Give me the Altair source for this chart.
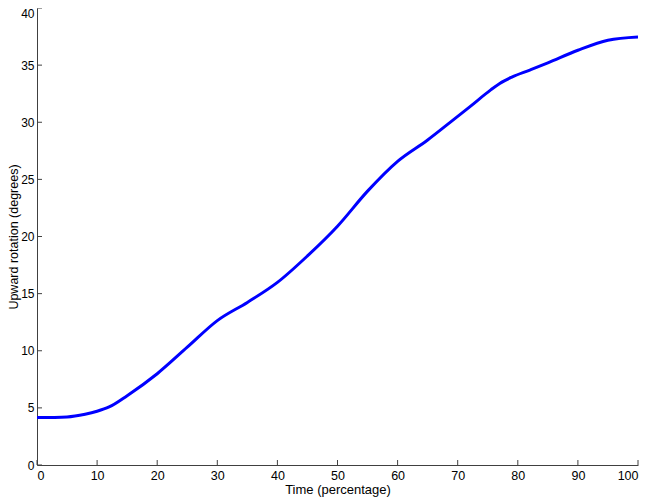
import altair as alt
import pandas as pd

time_pct = [0, 5, 8, 10, 12, 15, 20, 25, 30, 35, 40, 45, 50, 55, 60, 65, 69, 72, 75.5, 77, 79, 82, 85,
            90, 95, 100]
rotation = [4.15, 4.21, 4.44, 4.7, 5.08, 6.07, 7.99, 10.31, 12.64, 14.23, 15.98, 18.3, 20.9, 23.97, 26.58,
            28.45, 30.1, 31.35, 32.83, 33.4, 33.95, 34.57, 35.2, 36.3, 37.18, 37.47]
x_ticks = [0, 10, 20, 30, 40, 50, 60, 70, 80, 90, 100]
y_ticks = [0, 5, 10, 15, 20, 25, 30, 35, 40]

W, H = 601, 457
LEFT = 29
FONT = "Liberation Sans"
AXIS_COLOR = "#404040"

df = pd.DataFrame({"t": time_pct, "r": rotation})
xt = pd.DataFrame({"v": x_ticks})
yt = pd.DataFrame({"v": y_ticks})

xscale = alt.Scale(domain=[0, 100], nice=False, zero=False)
yscale = alt.Scale(domain=[0, 40], nice=False, zero=False)

line = alt.Chart(df).mark_line(color="#0000FF", strokeWidth=3, interpolate="monotone").encode(
    x=alt.X("t:Q", scale=xscale, axis=alt.Axis(
        values=x_ticks, title="Time (percentage)", ticks=False, grid=False,
        domainColor=AXIS_COLOR, domainWidth=1, labelFont=FONT, labelFontSize=12.5,
        labelColor="black", labelPadding=4, titleFont=FONT, titleFontSize=13,
        titleFontWeight="normal", titleColor="black", titleY=24, titleBaseline="middle")),
    y=alt.Y("r:Q", scale=yscale, axis=alt.Axis(
        values=y_ticks, title="Upward rotation (degrees)", ticks=False, grid=False,
        domainColor=AXIS_COLOR, domainWidth=1, labelFont=FONT, labelFontSize=12,
        labelColor="black", labelPadding=3,
        labelOffset={"condition": {"test": "datum.value == 40", "value": 5}, "value": 0},
        titleFont=FONT, titleFontSize=12.5,
        titleFontWeight="normal", titleColor="black", titleX=-24, titleY=H / 2,
        titleAngle=270, titleBaseline="middle", titleAlign="center")),
)

xtick_marks = alt.Chart(xt).mark_rule(color=AXIS_COLOR, strokeWidth=1).encode(
    x=alt.X("v:Q", scale=xscale),
    y=alt.value(H),
    y2=alt.value(H - 5),
)
ytick_marks = alt.Chart(yt).mark_rule(color=AXIS_COLOR, strokeWidth=1).encode(
    y=alt.Y("v:Q", scale=yscale),
    x=alt.value(0),
    x2=alt.value(5),
)

chart = alt.layer(xtick_marks, ytick_marks, line).properties(
    width=W, height=H,
    background="white",
    autosize=alt.AutoSizeParams(type="none"),
    padding={"left": LEFT, "top": 0, "right": 4, "bottom": 33},
).configure_view(stroke=None, strokeWidth=0)

chart.save("out.html", embed_options={"renderer": "svg", "actions": False})
